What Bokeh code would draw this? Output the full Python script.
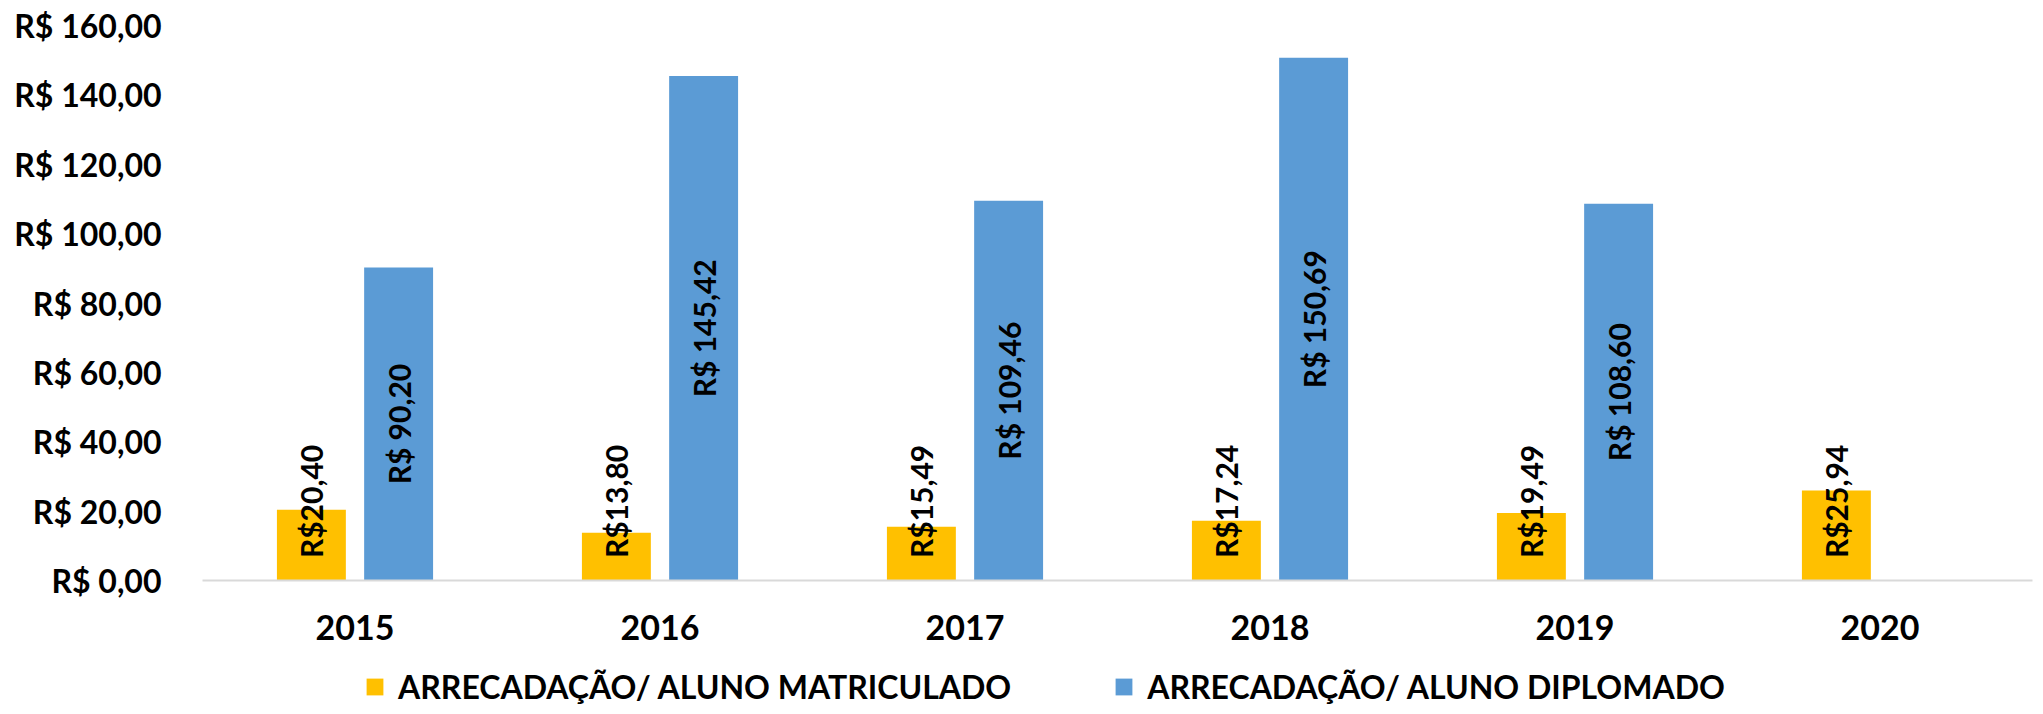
import math
from bokeh.plotting import figure
from bokeh.layouts import column
from bokeh.models import ColumnDataSource, FactorRange, FixedTicker, Legend, LegendItem, Range1d
from bokeh.transform import dodge
from bokeh.embed import file_html
from bokeh.resources import INLINE
from bokeh.core.properties import value

# ---- data ----
years = ["2015", "2016", "2017", "2018", "2019", "2020"]
matriculado = [20.40, 13.80, 15.49, 17.24, 19.49, 25.94]
diplomado = [90.20, 145.42, 109.46, 150.69, 108.60, None]
series_names = ["ARRECADAÇÃO/ ALUNO MATRICULADO", "ARRECADAÇÃO/ ALUNO DIPLOMADO"]
y_ticks = [0, 20, 40, 60, 80, 100, 120, 140, 160]
y_tick_labels = ["R$ 0,00", "R$ 20,00", "R$ 40,00", "R$ 60,00", "R$ 80,00",
                 "R$ 100,00", "R$ 120,00", "R$ 140,00", "R$ 160,00"]
colors = ["#FFC000", "#5B9BD5"]

FONT = "Lato"
MIN_LABEL_CENTER = 22.8  # keeps short-bar labels above the axis, as in the original


def fmt(v, sep):
    return "R$" + sep + ("%.2f" % v).replace(".", ",")


m_src = ColumnDataSource(dict(
    year=years, value=matriculado,
    label=[fmt(v, "") for v in matriculado],
    ly=[max(v / 2, MIN_LABEL_CENTER) for v in matriculado],
))
d_years = [y for y, v in zip(years, diplomado) if v is not None]
d_vals = [v for v in diplomado if v is not None]
d_src = ColumnDataSource(dict(
    year=d_years, value=d_vals,
    label=[fmt(v, " ") for v in d_vals],
    ly=[max(v / 2, MIN_LABEL_CENTER) for v in d_vals],
))

W, H_MAIN, H_LEG = 2035, 666, 40
p = figure(x_range=FactorRange(*years), y_range=(0, 160),
           width=W, height=H_MAIN, output_backend="svg", toolbar_location=None,
           min_border_left=202, min_border_right=3, min_border_top=25,
           min_border_bottom=86)
p.outline_line_color = None
p.xgrid.visible = False
p.ygrid.visible = False

OFF = 0.143
BW = 0.226
p.vbar(x=dodge("year", -OFF, range=p.x_range), top="value", width=BW,
       source=m_src, fill_color=colors[0], line_color=None)
p.vbar(x=dodge("year", OFF, range=p.x_range), top="value", width=BW,
       source=d_src, fill_color=colors[1], line_color=None)

for src, off in ((m_src, -OFF), (d_src, OFF)):
    p.text(x=dodge("year", off, range=p.x_range), y="ly", text="label", source=src,
           angle=math.pi / 2, text_align="center", text_baseline="middle",
           text_font=value(FONT), text_font_style="bold", text_font_size="30px",
           text_color="#000000")

# y axis
ya = p.yaxis[0]
ya.ticker = FixedTicker(ticks=y_ticks)
ya.major_label_overrides = {t: l for t, l in zip(y_ticks, y_tick_labels)}
ya.axis_line_color = None
ya.major_tick_line_color = None
ya.minor_tick_line_color = None
ya.major_label_standoff = 35
ya.major_label_text_font = FONT
ya.major_label_text_font_style = "bold"
ya.major_label_text_font_size = "32px"
ya.major_label_text_color = "#000000"

# x axis
xa = p.xaxis[0]
xa.axis_line_color = "#D9D9D9"
xa.axis_line_width = 2
xa.major_tick_line_color = None
xa.minor_tick_line_color = None
xa.major_label_standoff = 28
xa.major_label_text_font = FONT
xa.major_label_text_font_style = "bold"
xa.major_label_text_font_size = "34px"
xa.major_label_text_color = "#000000"

# ---- legend strip (series keys); its frame is aligned with the chart's frame ----
leg = figure(width=W, height=H_LEG, output_backend="svg", toolbar_location=None,
             x_axis_type=None, y_axis_type=None,
             x_range=p.x_range, y_range=Range1d(200, 201),  # bars themselves out of view
             min_border=0, min_border_left=202, min_border_right=3,
             min_border_top=0, min_border_bottom=0)
leg.outline_line_color = None
leg.xgrid.visible = False
leg.ygrid.visible = False
k1 = leg.vbar(x=dodge("year", -OFF, range=p.x_range), top="value", width=BW,
              source=m_src, fill_color=colors[0], line_color=None)
k2 = leg.vbar(x=dodge("year", OFF, range=p.x_range), top="value", width=BW,
              source=d_src, fill_color=colors[1], line_color=None)

legend = Legend(items=[LegendItem(label=series_names[0], renderers=[k1]),
                       LegendItem(label=series_names[1], renderers=[k2])],
                orientation="horizontal", location=(162, 0),
                glyph_width=21, glyph_height=21, label_standoff=13, spacing=102,
                padding=0, margin=0, border_line_color=None,
                background_fill_alpha=0,
                label_text_font=FONT, label_text_font_style="bold",
                label_text_font_size="32px", label_text_color="#000000")
leg.add_layout(legend, "center")

layout = column(p, leg, spacing=0)
open("out.html", "w").write(file_html(layout, INLINE))
